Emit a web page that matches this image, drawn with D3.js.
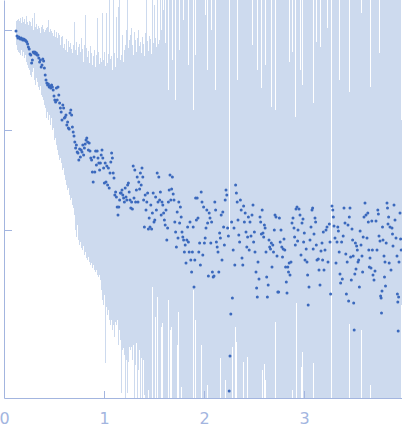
<!DOCTYPE html>
<html><head><meta charset="utf-8">
<script src="https://cdn.jsdelivr.net/npm/d3@7"></script>
<style>html,body{margin:0;padding:0;background:#fff}svg{display:block}</style>
</head><body><svg id="c" width="402" height="437"></svg>
<script>
// scattering vector q
const q = [
0.12,0.13,0.14,0.148,0.156,0.164,0.172,0.18,0.188,0.196,0.204,0.212,0.22,0.228,0.236,0.244,0.252,
0.26,0.268,0.276,0.284,0.292,0.30,0.308,0.316,0.324,0.332,0.34,0.348,0.356,0.364,0.372,0.38,0.388,0.396,0.404,
0.412,0.42,0.428,0.436,0.444,0.452,0.46,0.468,0.476,0.484,0.492,0.50,0.508,0.516,0.524,
0.532,0.54,0.548,0.556,0.564,0.572,0.58,0.588,0.596,0.604,0.612,0.62,0.628,0.636,0.644,0.652,0.66,0.668,0.676,0.684,0.692,0.70,0.708,
0.716,0.724,0.732,0.74,0.748,0.756,0.764,0.772,0.78,0.788,0.796,0.804,0.812,0.82,0.828,0.836,0.844,0.852,0.86,0.868,0.876,0.884,0.892,0.90,0.908,0.916,0.924,0.932,0.94,0.948,0.956,
0.964,0.972,0.98,0.988,0.996,1.004,1.012,1.02,1.028,1.036,1.044,1.052,1.06,1.068,1.076,1.084,1.092,1.10,1.108,1.116,1.124,1.132,1.14,1.148,1.156,1.164,1.172,1.18,1.188,1.196,1.204,1.212,1.22,1.228,1.236,1.244,1.252,
1.26,1.268,1.276,1.284,1.292,1.30,1.308,1.316,1.324,1.332,1.34,1.348,1.356,1.364,1.372,1.38,1.388,1.396,1.404,1.412,1.42,1.428,1.436,1.444,1.452,1.46,1.468,1.476,1.484,1.492,1.50,1.508,1.516,1.524,1.532,1.54,1.548,1.556,
1.564,1.572,1.58,1.588,1.596,1.604,1.612,1.62,1.628,1.636,1.644,1.652,1.66,1.668,1.676,1.684,1.692,1.70,1.708,1.716,1.724,1.732,1.74,1.748,1.756,1.764,1.772,1.78,1.788,1.796,1.804,1.812,1.82,1.828,1.836,1.844,1.852,1.86,1.868,1.876,1.884,1.892,1.90,1.908,1.916,1.924,1.932,1.94,1.948,1.956,
1.964,1.972,1.98,1.988,1.996,2.004,2.012,2.02,2.028,2.036,2.044,2.052,2.06,2.068,2.076,2.084,2.092,2.1,2.108,2.116,2.124,2.132,2.14,2.148,2.156,2.164,2.172,2.18,2.188,2.196,2.204,2.212,2.22,2.228,2.236,2.244,2.252,2.26,2.268,2.276,2.284,2.292,2.3,2.308,2.316,2.324,2.332,2.34,2.348,2.356,2.364,2.372,2.38,2.388,2.396,2.404,2.412,2.42,2.428,2.436,2.444,2.452,
2.46,2.47,2.48,2.49,2.496,2.504,2.51,2.52,2.526,2.533,
2.54,2.55,2.56,2.567,2.574,2.582,2.59,2.597,2.604,2.611,
2.62,2.627,2.634,2.642,2.65,2.657,2.665,2.673,2.68,2.688,
2.695,2.703,2.71,2.72,2.73,2.738,2.746,2.754,2.762,2.77,
2.778,2.785,2.792,2.8,2.808,2.816,2.823,2.83,2.838,2.845,
2.852,2.86,2.87,2.88,2.89,2.9,2.906,2.913,2.92,2.93,
2.936,2.94,2.95,2.96,2.97,2.98,2.99,2.996,3.003,3.01,
3.022,3.03,3.036,3.042,3.05,3.06,3.07,3.08,3.086,3.092,
3.1,3.11,3.116,3.123,3.13,3.143,3.15,3.16,3.17,3.18,
3.186,3.193,3.2,3.21,3.22,3.23,3.24,3.253,3.26,3.266,
3.28,3.288,3.294,3.3,3.31,3.32,3.33,3.338,3.344,3.352,
3.36,3.366,3.376,3.383,3.392,3.4,3.41,3.418,3.424,3.432,
3.44,3.446,3.453,3.46,3.466,3.473,3.48,3.486,3.492,3.497,
3.502,3.508,3.514,3.52,3.526,3.533,3.54,3.547,3.554,3.561,
3.57,3.58,3.586,3.592,3.6,3.61,3.62,3.63,3.638,3.643,
3.648,3.653,3.66,3.67,3.678,3.684,3.69,3.7,3.71,3.72,
3.73,3.738,3.744,3.75,3.76,3.766,3.771,3.775,3.78,3.785,
3.79,3.8,3.805,3.81,3.815,3.822,3.83,3.835,3.84,3.846,
3.852,3.86,3.87,3.88,3.885,3.89,3.9,3.91,3.92,3.93,
3.934,3.938,3.942,3.946,3.95,3.96,3.966,3.972
];
// log10 intensity
const logI = [
-0.01,-0.06,-0.08,-0.07,-0.08,-0.09,-0.08,-0.09,-0.10,-0.09,-0.10,-0.10,-0.11,-0.12,-0.14,-0.17,-0.19,
-0.24,-0.25,-0.33,-0.30,-0.22,-0.23,-0.22,-0.24,-0.23,-0.25,-0.25,-0.28,-0.32,-0.30,-0.37,-0.35,-0.29,-0.31,-0.38,
-0.45,-0.50,-0.53,-0.55,-0.54,-0.57,-0.56,-0.58,-0.55,-0.57,-0.60,-0.66,-0.70,-0.72,-0.58,
-0.70,-0.57,-0.65,-0.73,-0.78,-0.82,-0.90,-0.75,-0.78,-0.88,-0.87,-0.85,-0.95,-0.92,-0.98,-0.99,-0.83,-0.80,-0.85,-0.97,-1.02,-1.06,-1.12,
-1.18,-1.15,-1.22,-1.23,-1.30,-1.19,-1.27,-1.20,-1.22,-1.15,-1.25,-1.18,-1.14,-1.10,-1.08,-1.12,-1.20,-1.13,-1.21,-1.28,-1.30,-1.42,-1.52,-1.27,-1.42,-1.21,-1.35,-1.21,-1.28,-1.33,-1.40,
-1.33,-1.25,-1.20,-1.28,-1.38,-1.53,-1.33,-1.52,-1.36,-1.55,-1.38,-1.58,-1.43,-1.32,-1.23,-1.28,-1.43,-1.48,-1.65,-1.62,-1.67,-1.77,-1.85,-1.77,-1.70,-1.63,-1.63,-1.60,-1.65,-1.68,-1.72,-1.58,-1.67,-1.70,-1.55,-1.53,-1.62,
-1.70,-1.78,-1.72,-1.79,-1.36,-1.68,-1.40,-1.72,-1.60,-1.47,-1.72,-1.52,-1.59,-1.43,-1.55,-1.38,-1.47,-1.70,-1.97,-1.65,-1.80,-1.72,-1.63,-1.99,-1.88,-1.97,-1.75,-1.99,-1.83,-1.63,-1.92,-1.90,-1.67,-1.80,-1.43,-1.72,-1.47,-1.70,
-1.62,-1.85,-1.72,-1.75,-1.83,-1.90,-1.95,-1.80,-2.10,-1.98,-1.72,-1.60,-1.45,-1.70,-1.59,-1.47,-1.64,-1.70,-1.92,-2.02,-2.17,-1.82,-2.08,-1.72,-1.93,-1.77,-1.87,-2.02,-2.07,-2.10,-2.22,-2.15,-2.33,-2.10,-1.97,-2.12,-2.22,-1.92,-2.30,-2.42,-2.22,-1.97,-2.57,-2.30,-1.68,-1.90,-1.68,-1.88,-2.22,-2.13,
-2.35,-1.62,-1.72,-2.25,-1.77,-2.13,-2.08,-1.98,-1.80,-1.93,-2.46,-1.83,-1.88,-2.13,-1.92,-2.42,-2.47,-2.46,-1.72,-1.80,-2.12,-2.17,-2.22,-2.42,-2.03,-2.08,-1.85,-2.30,-1.82,-1.97,-2.15,-1.70,-1.60,-1.65,-1.98,-2.06,-3.61,-3.26,-2.84,-1.92,-2.68,-2.20,-1.98,-2.35,-1.55,-1.63,-1.72,-1.90,-2.05,-2.12,-1.70,-1.80,-2.28,-2.35,-1.76,-1.92,-1.83,-2.02,-2.17,-2.07,-1.87,-2.20,
-1.92,-2.06,-1.85,-1.75,-2.12,-2.02,-2.22,-2.42,-2.58,-2.67,
-2.32,-2.49,-1.87,-1.92,-2.04,-1.80,-2.03,-2.07,-1.95,-1.98,
-2.22,-2.47,-2.67,-2.55,-2.10,-2.17,-2.19,-2.13,-2.37,-2.15,
-2.22,-2.00,-1.85,-1.87,-2.26,-2.62,-2.62,-1.88,-2.12,-2.00,
-2.17,-2.27,-2.19,-2.09,-2.20,-2.37,-2.52,-2.63,-2.37,-2.42,
-2.33,-2.45,-2.32,-1.93,-1.88,-1.98,-2.07,-2.15,-1.79,-1.77,
-2.11,-2.00,-1.79,-1.85,-2.25,-1.93,-1.89,-2.12,-2.03,-2.30,
-2.19,-2.32,-2.45,-2.75,-2.57,-2.10,-1.97,-1.80,-1.78,-2.19,
-2.04,-1.88,-1.92,-2.15,-2.30,-2.29,-2.40,-2.55,-2.21,-2.13,
-2.30,-2.02,-2.40,-2.20,-2.00,-1.97,-2.32,-1.94,-2.12,-2.64,
-1.76,-1.80,-1.87,-1.96,-2.08,-2.33,-2.12,-1.97,-2.01,-2.22,
-2.44,-2.53,-2.12,-2.49,-2.06,-1.78,-1.93,-2.24,-2.64,-2.32,
-1.95,-2.71,-1.87,-1.78,-2.27,-2.50,-1.99,-2.10,-2.26,-2.73,
-3.00,-2.44,-2.13,-2.39,-2.16,-2.20,-2.32,-2.30,-2.57,-2.01,
-2.15,-2.26,-2.42,-2.07,-1.87,-1.73,-1.85,-2.08,-1.83,-1.92,
-2.20,-2.37,-2.28,-2.38,-1.91,-2.20,-2.45,-2.50,-2.41,-1.91,
-2.20,-1.80,-1.84,-2.06,-2.11,-2.66,-2.68,-2.83,-2.61,-1.97,
-2.10,-2.26,-2.47,-2.32,-2.56,-2.13,-1.73,-1.78,-1.94,-1.87,
-2.33,-1.97,-2.40,-1.98,-2.04,-2.16,-1.75,-1.90,-2.08,-2.26,
-2.64,-2.72,-3.01,-2.67,-2.32,-1.83,-2.09,-2.20
];
// log10 of upper end of error bar (1 = off the top)
const errTop = [
0.09,0.10,0.08,0.11,0.09,0.12,0.07,0.10,0.13,0.08,0.11,0.06,0.10,0.14,0.08,0.05,0.09,
0.02,0.08,0.04,0.12,0.00,0.05,0.17,0.03,0.06,0.01,-0.01,0.04,0.02,-0.03,0.03,0.00,0.05,0.01,-0.02,
0.00,0.02,-0.04,0.03,0.10,-0.02,0.01,-0.05,-0.01,-0.03,-0.06,0.00,-0.04,-0.07,-0.02,
-0.08,-0.03,-0.10,-0.05,-0.15,-0.07,-0.12,-0.06,-0.18,-0.14,-0.20,-0.09,-0.16,-0.22,-0.11,-0.17,-0.13,-0.25,-0.19,-0.23,-0.15,-0.28,0.08,
-0.20,-0.12,-0.25,-0.17,-0.30,-0.14,-0.22,-0.08,-0.28,-0.19,-0.32,-0.15,0.15,-0.24,-0.18,-0.27,-0.21,-0.33,-0.16,-0.29,-0.23,-0.35,-0.26,-0.31,-0.20,-0.37,-0.25,0.12,-0.30,-0.22,-0.34,
-0.28,-0.32,-0.25,0.17,-0.30,-0.22,-0.36,-0.27,0.17,-0.33,-0.24,1,-0.29,-0.35,-0.26,-0.40,1,-0.31,-0.23,-0.37,0.13,-0.28,-0.34,0.23,1,-0.30,-0.25,-0.38,-0.05,-0.32,-0.20,-0.15,-0.27,0.00,1,-0.18,-0.10,
-0.05,-0.20,0.02,-0.15,-0.25,-0.02,-0.18,-0.10,-0.22,-0.08,-0.27,0.00,-0.16,-0.12,-0.23,-0.07,-0.19,-0.14,-0.26,-0.03,-0.17,1,-0.11,-0.21,-0.06,-0.15,-0.09,-0.24,1,-0.13,-0.20,0.25,-0.08,-0.17,1,-0.14,-0.22,-0.10,
1,0.00,1,-0.27,0.20,1,-0.13,1,0.05,1,-0.60,1,-0.10,1,1,-0.30,1,0.15,1,-0.70,1,1,-0.05,1,-0.20,1,1,-0.50,1,0.10,1,1,-0.15,1,1,-0.35,1,1,0.00,1,1,-0.80,1,1,-0.25,1,1,0.05,1,1,
1,1,-0.10,1,1,1,0.15,1,1,-0.40,1,1,1,1,0.00,1,1,1,1,-0.60,1,1,1,0.25,1,1,1,-0.30,1,1,1,1,-0.70,1,1,1,-2.00,-2.30,1,1,1,1,0.10,1,1,1,-0.50,1,1,1,1,1,1,-0.10,1,1,1,1,-0.80,1,1,1,
1,1,-0.15,1,1,1,1,1,1,-0.40,
1,1,1,1,-0.58,1,1,1,1,-0.35,
1,1,1,1,1,1,1,-0.77,1,0.15,
1,1,-0.80,1,0.08,1,1,1,1,0.00,
1,1,1,-0.37,1,1,1,1,1,1,
-0.32,1,1,-0.22,1,1,1,-0.87,1,-0.13,
1,1,1,-0.40,1,-0.55,1,1,1,1,
1,1,1,1,1,1,1,-0.10,1,-0.73,
1,1,1,-0.12,1,1,1,-0.17,1,1,
1,1,1,1,1,0.02,1,1,1,1,
0.01,1,1,1,1,1,-0.67,1,1,-0.50,
1,1,1,1,1,1,0.12,1,1,1,
1,1,-0.62,1,1,1,1,1,1,1,
0.03,1,1,1,1,1,1,1,1,1,
0.17,-0.78,1,1,1,1,1,1,1,1,
1,1,-0.57,1,1,1,1,1,1,1,
0.08,1,1,-0.23,1,1,1,1,1,1,
1,1,1,1,1,1,-0.15,1,1,1,
1,1,1,0.10,1,1,1,1,1,1,
1,1,1,1,1,1,1,-0.90
];
// log10 of lower end of error bar (-4 = off the bottom)
const errBot = [
-0.15,-0.20,-0.22,-0.18,-0.23,-0.25,-0.20,-0.24,-0.26,-0.22,-0.28,-0.25,-0.30,-0.32,-0.35,-0.38,-0.40,
-0.40,-0.45,-0.47,-0.42,-0.38,-0.50,-0.45,-0.55,-0.48,-0.52,-0.57,-0.54,-0.60,-0.56,-0.65,-0.62,-0.67,-0.70,-0.75,
-0.78,-0.80,-0.88,-0.82,-0.90,-0.85,-0.92,-0.95,-0.88,-1.00,-0.98,-1.05,-1.10,-1.08,-1.15,
-1.20,-1.18,-1.25,-1.30,-1.28,-1.33,-1.35,-1.40,-1.38,-1.45,-1.50,-1.48,-1.55,-1.60,-1.58,-1.65,-1.62,-1.70,-1.68,-1.75,-1.78,-1.80,-1.85,
-2.00,-2.07,-1.95,-2.10,-2.05,-2.15,-2.12,-2.18,-2.14,-2.20,-2.16,-2.25,-2.22,-2.28,-2.25,-2.30,-2.27,-2.32,-2.28,-2.35,-2.33,-2.38,-2.35,-2.40,-2.37,-2.42,-2.40,-2.45,-2.43,-2.47,-2.45,
-2.50,-2.60,-2.47,-2.70,-2.75,-2.65,-3.33,-2.77,-2.70,-2.85,-2.80,-2.90,-2.88,-2.95,-2.90,-3.00,-2.95,-3.07,-3.00,-2.92,-2.95,-2.90,-3.05,-3.15,-3.00,-3.10,-3.63,-3.20,-3.15,-3.18,-3.25,-4,-3.20,-3.30,-3.63,-3.32,-3.17,
-3.20,-3.15,-3.17,-3.30,-3.15,-4,-3.25,-3.35,-3.13,-4,-3.15,-3.40,-3.20,-4,-3.28,-3.32,-4,-3.30,-3.65,-4,-3.40,-4,-4,-3.60,-4,-4,-2.72,-4,-2.57,-4,-4,-3.45,-2.87,-4,-2.67,-4,-2.35,-4,
-4,-2.97,-2.68,-2.93,-4,-4,-4,-4,-4,-4,-2.70,-4,-3.00,-2.37,-2.97,-4,-4,-4,-4,-4,-4,-3.15,-2.82,-2.82,-4,-4,-3.57,-4,-4,-4,-4,-4,-2.90,-4,-4,-4,-4,-4,-4,-4,-4,-2.60,-4,-4,-2.90,-4,-4,-4,-4,-4,
-4,-3.15,-4,-4,-4,-4,-4,-4,-3.55,-3.55,-4,-4,-4,-4,-4,-4,-4,-4,-3.20,-4,-4,-4,-4,-4,-4,-3.28,-4,-4,-2.97,-4,-4,-3.50,-4,-2.30,-4,-4,-4,-4,-4,-4,-3.17,-4,-4,-4,-2.97,-3.12,-4,-4,-4,-4,-4,-4,-3.27,-4,-3.32,-4,-4,-4,-3.05,-3.27,-4,-4,
-4,-4,-4,-4,-4,-4,-4,-4,-4,-4,
-4,-4,-4,-4,-4,-3.40,-4,-4,-3.34,-3.50,
-4,-4,-4,-4,-4,-3.18,-4,-4,-4,-4,
-4,-4,-2.92,-4,-4,-4,-4,-4,-4,-4,
-4,-4,-4,-4,-4,-4,-4,-4,-4,-4,
-4,-4,-4,-3.60,-4,-4,-4,-4,-2.73,-4,
-4,-4,-4,-4,-3.37,-3.22,-4,-4,-4,-4,
-4,-4,-4,-4,-4,-4,-4,-3.48,-4,-3.33,
-4,-4,-4,-4,-4,-4,-4,-4,-4,-4,
-4,-4,-4,-4,-4,-4,-4,-4,-4,-4,
-4,-3.53,-4,-4,-4,-4,-3.52,-4,-4,-4,
-4,-4,-4,-4,-4,-4,-4,-4,-4,-4,
-4,-4,-2.94,-4,-4,-4,-4,-4,-4,-4,
-4,-4,-4,-4,-4,-4,-4,-4,-4,-4,
-3.00,-4,-4,-4,-4,-4,-4,-4,-4,-4,
-4,-4,-3.55,-4,-4,-4,-4,-4,-4,-4,
-4,-4,-4,-4,-4,-4,-4,-4,-4,-4,
-4,-4,-4,-4,-4,-4,-3.28,-4,-4,-4,
-4,-4,-4,-4,-4,-4,-4,-4,-4,-4,
-4,-4,-4,-4,-4,-4,-4,-2.75
];
const xTicks = [0, 1, 2, 3];
const yTicks = [0, -1, -2];

const svg = d3.select("#c");
const x = d3.scaleLinear().domain([0, 3.98]).range([4, 402]);
const y = d3.scaleLinear().domain([0.3, -3.68]).range([0, 398]).clamp(true);
const n = Math.min(q.length, logI.length, errTop.length, errBot.length);
const pts = d3.range(n).map(i => ({q: q[i], v: logI[i], t: errTop[i], b: errBot[i]}));

svg.append("g").selectAll("line").data(pts).join("line")
  .attr("x1", d => x(d.q)).attr("x2", d => x(d.q))
  .attr("y1", d => y(d.t)).attr("y2", d => y(d.b))
  .attr("stroke", "#cddaee").attr("stroke-width", 1)
  .attr("shape-rendering", "crispEdges");

const axColor = "#a3b5df";
const gx = svg.append("g").attr("transform", "translate(0,398)")
  .call(d3.axisBottom(x).tickValues(xTicks).tickSize(-7).tickSizeOuter(0)
    .tickPadding(15).tickFormat(d3.format("d")));
const gy = svg.append("g").attr("transform", "translate(4,0)")
  .call(d3.axisLeft(y).tickValues(yTicks).tickSize(-8).tickSizeOuter(0).tickFormat(""));
[gx, gy].forEach(g => {
  g.select(".domain").attr("stroke", axColor);
  g.selectAll(".tick line").attr("stroke", axColor);
});
gx.selectAll("text").attr("fill", axColor)
  .style("font-family", "DejaVu Sans").style("font-size", "16px");

svg.append("g").selectAll("circle").data(pts).join("circle")
  .attr("cx", d => x(d.q)).attr("cy", d => y(d.v)).attr("r", 1.5)
  .attr("fill", "#3b69bd");

if (!(q.length === logI.length && q.length === errTop.length && q.length === errBot.length)) {
  svg.append("text").attr("x", 200).attr("y", 434).attr("font-size", 9)
    .text(q.length + " " + logI.length + " " + errTop.length + " " + errBot.length);
}
</script></body></html>
